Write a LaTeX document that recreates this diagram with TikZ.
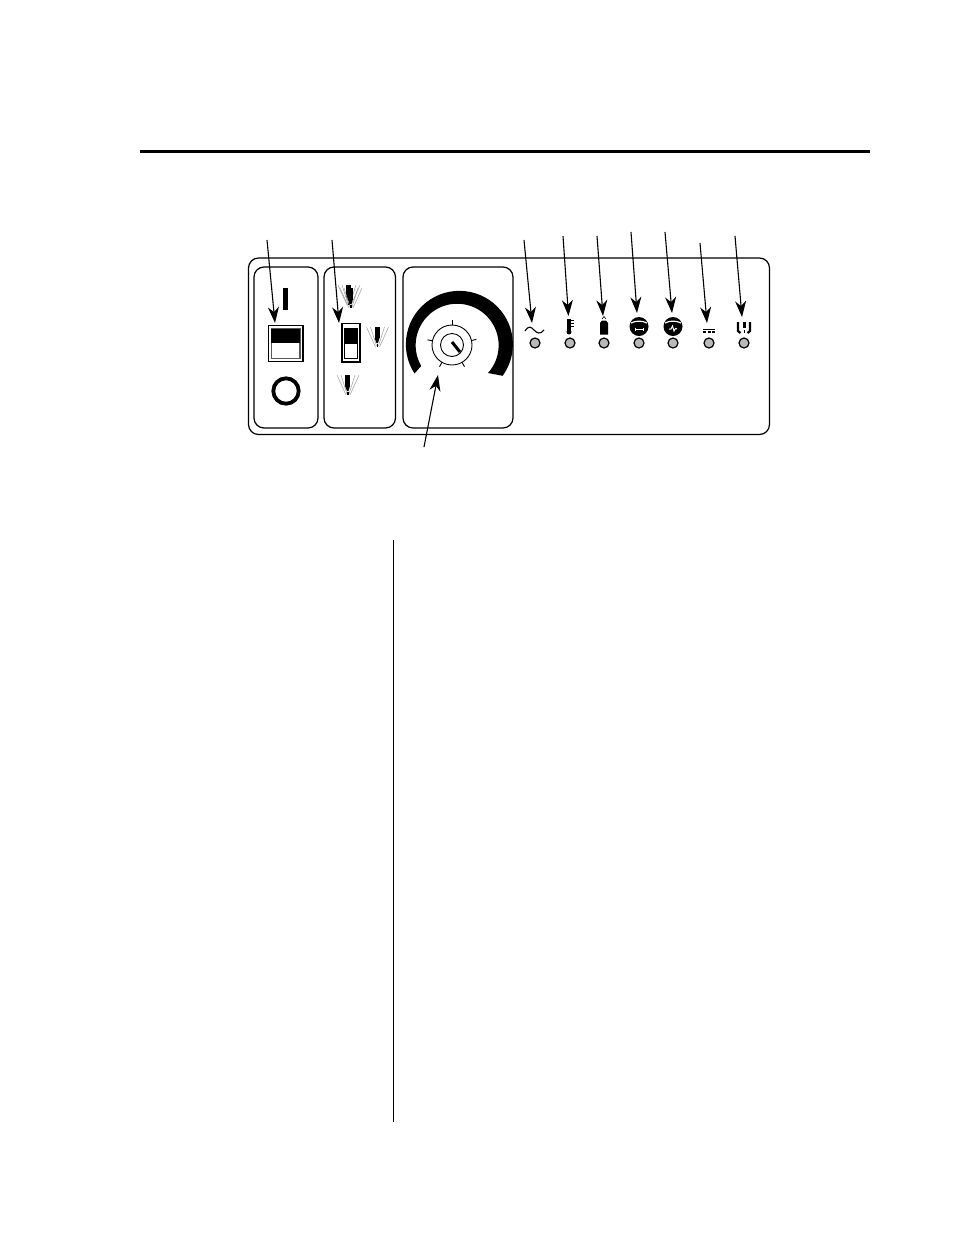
\documentclass[tikz,border=0pt]{standalone}
\usetikzlibrary{arrows.meta}

\tikzset{
  torch/.pic={
    \draw[gray!75, line width=0.5pt] (-11,-10) -- (-2,10) (11,-10) -- (2,10)
      (-7,-10) -- (-1,9) (7,-10) -- (1,9);
    \fill[black] (-3,-10) rectangle (2,1);
    \fill[black] (-3,1) -- (2,1) -- (0.5,6) -- (-1,6) -- cycle;
    \fill[black] (-0.7,7) rectangle (0.5,10);
  }
}

\begin{document}
\begin{tikzpicture}
        [x=1pt, y=-1pt,
        every node/.style={inner sep=0pt, outer sep=0pt},
        led/.style={circle, draw, line width=1.2pt, fill=gray!55, minimum size=10pt},
        panelbox/.style={draw, line width=1.2pt, rounded corners=10pt},
        pointer/.style={-{Stealth[length=16pt, width=11pt, inset=5pt]}, line width=1.1pt}]

    \path[fill=white, use as bounding box] (0,0) rectangle (954,1235);

    % page rules
    \draw[line width=2.6pt] (140,151.5) -- (870,151.5);
    \draw[line width=0.8pt] (393.5,540) -- (393.5,1122);

    % panel
    \draw[panelbox] (248.5,258) rectangle (769.5,434.5);
    \draw[panelbox] (254,267) rectangle (318,428);
    \draw[panelbox] (324,267) rectangle (395.5,428);
    \draw[panelbox] (403,267) rectangle (513,428);

    % power switch
    \fill (283,288) rectangle (288,310);
    \draw[line width=1.2pt, fill=white] (268.5,325.5) rectangle (303,361.5);
    \draw[line width=1.2pt, gray!70!black] (271.5,328.5) rectangle (300,358.5);
    \fill (271,329) rectangle (300,343);
    \draw[line width=3.8pt] (286,391) circle (12.7);

    % torch switch
    \begin{scope}
      \draw[line width=1.2pt] (342,323.5) rectangle (360,362);
      \draw[line width=0.8pt] (344.5,328) rectangle (357.5,358);
      \fill (344,328) rectangle (358,344);
      \pic at (349,295) {torch};
      \pic at (351,298) {torch};
      \pic at (377.5,337) {torch};
      \pic at (348,385) {torch};
    \end{scope}

    % knob and scale
    \begin{scope}[shift={(452,345)}]
      \draw[line width=0.9pt] (0,0) circle (20);
      \draw[line width=0.9pt] (0,0) circle (11.5);
      \draw[line width=3pt] (0,-3) -- (8,7);
      \foreach \a in {-90,-13,60,120,192}
        \draw[line width=0.9pt] (\a:20) -- (\a:25);
    \end{scope}
    \fill (414.5,373.5) arc[start angle=147, end angle=396, radius=53.5]
      -- (488,373) arc[start angle=42, end angle=-210, radius=41.5] -- cycle;

    % status lamps
    \foreach \n/\xc in {1/535, 2/570, 3/604, 4/639, 5/673, 6/709, 7/744}
      \node[led] (led\n) at (\xc,343) {};

    % lamp symbols
    \draw[line width=1.1pt] (525,331) .. controls (529,325) and (531,327) .. (534,330)
      .. controls (537,333) and (540,335) .. (544,330);
    \fill (567,319) rectangle (571,333);
    \fill (569,332) circle (2.5);
    \foreach \yt in {320,323,326}
      \draw[line width=1pt] (571,\yt) -- (573.5,\yt);
    \fill (600,323) -- (602,320.5) -- (606,320.5) -- (608,323) -- (608,334.5) -- (600,334.5) -- cycle;
    \draw[line width=0.6pt] (602,319) -- (604,316.5) -- (606,319);
    \foreach \xc in {639, 673}{
      \fill (\xc,326.5) circle (9.5);
      \draw[white, line width=1.2pt] (\xc-8,323) .. controls (\xc-3,320.5) and (\xc+3,320.5) .. (\xc+8,323);
    }
    \draw[white, line width=0.8pt] (635,329) -- (643,329) (635,327.5) -- (635,330.5) (643,327.5) -- (643,330.5);
    \draw[white, line width=1pt] (669,329) -- (671,329) -- (672.5,326) -- (674,331) -- (675.5,328.5) -- (677,329);
    \draw[line width=1.2pt] (703,329.5) -- (715,329.5);
    \draw[line width=1.2pt, dash pattern=on 3pt off 1.5pt] (703,332) -- (715,332);
    \draw[line width=2.2pt] (738,322) -- (738,331) -- (740.5,333);
    \draw[line width=2.2pt] (750,322) -- (750,331) -- (747.5,333);
    \fill (743,322) rectangle (745.5,328);
    \fill (743.5,330) rectangle (745,332.5);

    % callouts
    \foreach \n/\xa/\ya/\xb/\yb in {sw/267/240/275/323, torch/332/240/339/323,
        knob/424/447/438/375, acp/524/240/532/323, tmp/563/236/568.5/316,
        gas/597/236/603/316, arc/631/232/637/313, hf/665/232/672/313,
        dc/700/243/707/323, trg/735/236/742/317}{
      \coordinate (from\n) at (\xa,\ya);
      \coordinate (to\n) at (\xb,\yb);
      \draw[pointer] (from\n) -- (to\n);
    }
    \end{tikzpicture}
\end{document}
